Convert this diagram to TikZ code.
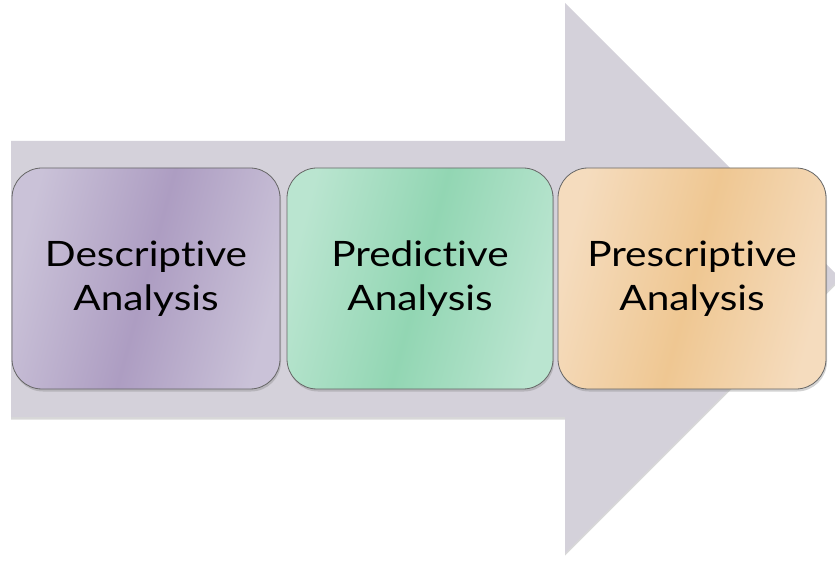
\documentclass[tikz,border=0pt]{standalone}
\usepackage{fontspec}
\setmainfont{Lato}[Ligatures={NoCommon}, FakeStretch=1.16]
\usetikzlibrary{shadows}
\definecolor{arrowgrey}{HTML}{D4D1DA}
\definecolor{purpleE}{HTML}{CAC2D8}
\definecolor{purpleM}{HTML}{AD9DC2}
\definecolor{greenE}{HTML}{BAE5D0}
\definecolor{greenM}{HTML}{92D6B3}
\definecolor{orangeE}{HTML}{F5DCBE}
\definecolor{orangeM}{HTML}{EFC792}
\tikzset{
  stagebox/.style={draw=black!60, line width=0.8pt, rounded corners=30pt,
    minimum height=221pt, align=center, inner sep=0pt,
    font=\fontsize{35}{44}\selectfont,
    drop shadow={shadow xshift=1pt, shadow yshift=-2.5pt, opacity=0.35}},
  bigarrow/.style={fill=arrowgrey,
    drop shadow={shadow xshift=0pt, shadow yshift=-2.5pt, opacity=0.3}}
}
\begin{document}
\begin{tikzpicture}[x=1pt,y=-1pt]
\clip (0,0) rectangle (835,561);
\fill[white] (0,0) rectangle (835,561);
\path[bigarrow] (11,141) -- (565,141) -- (565,3) -- (840,278) -- (565,553) -- (565,417) -- (11,417) -- cycle;
\node[stagebox, minimum width=268pt, left color=purpleE, right color=purpleE, middle color=purpleM, shading angle=75] (b1) at (146,278.5) {Descriptive\\Analysis};
\node[stagebox, minimum width=266pt, left color=greenE, right color=greenE, middle color=greenM, shading angle=75] (b2) at (420,278.5) {Predictive\\Analysis};
\node[stagebox, minimum width=268pt, left color=orangeE, right color=orangeE, middle color=orangeM, shading angle=75] (b3) at (692,278.5) {Prescriptive\\Analysis};
\end{tikzpicture}
\end{document}
